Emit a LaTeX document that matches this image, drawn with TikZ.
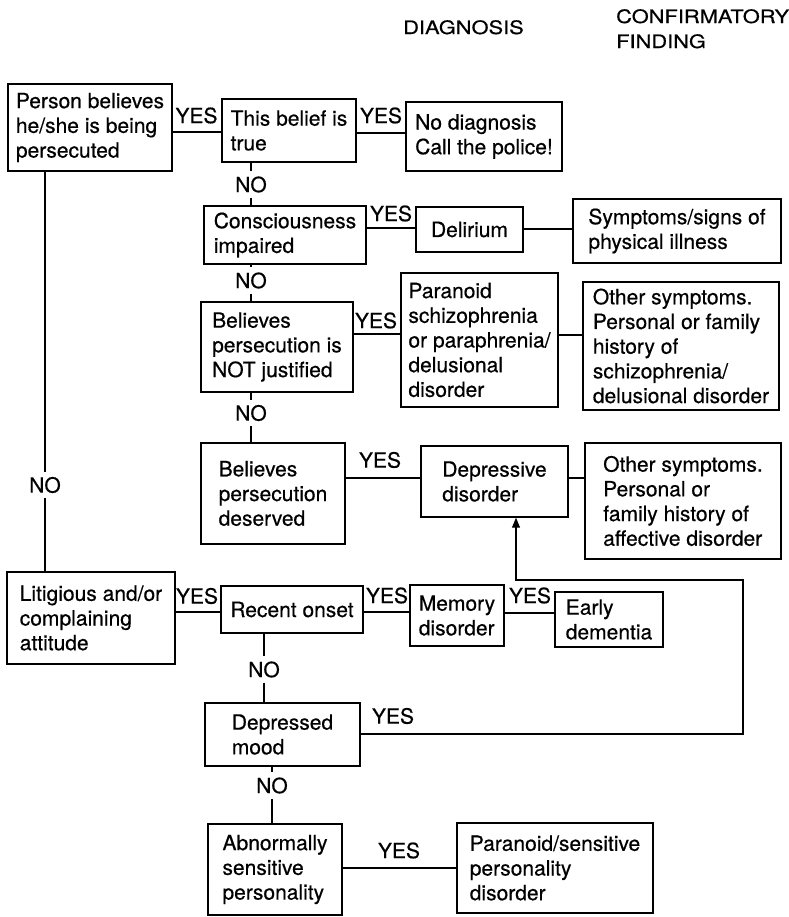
\documentclass[tikz,border=0pt]{standalone}
\usepackage{fontspec}
\setmainfont[FakeBold=0.5]{TeX Gyre Heros}
\newfontfamily\headfont[FakeStretch=1.18,FakeBold=0.5]{TeX Gyre Heros}
\usetikzlibrary{arrows.meta}
\begin{document}
\begin{tikzpicture}[x=1pt,y=-1pt,
  every node/.style={font=\fontsize{21}{24.7}\selectfont},
  box/.style={draw, line width=1.4pt, align=left, inner sep=0pt},
  lbl/.style={inner sep=5pt},
  head/.style={font=\headfont\fontsize{18.5}{25}\selectfont, align=left, inner sep=0pt, anchor=north west},
  link/.style={line width=1.1pt},
]
\useasboundingbox (0,0) rectangle (788,917);

% column headings
\node[head] (hdiag) at (403,20) {DIAGNOSIS};
\node[head] (hconf) at (616,9) {CONFIRMATORY\\FINDING};

% decision and outcome boxes
\node[box, minimum width=164pt, minimum height=87pt] (P) at (90,127.5) {Person believes\\he/she is being\\persecuted};
\node[box, minimum width=134pt, minimum height=63pt] (T) at (289,130.5) {This belief is\\true};
\node[box, minimum width=156pt, minimum height=69pt] (N) at (484,136.5) {No diagnosis\\Call the police!};
\node[box, minimum width=162pt, minimum height=58pt] (C) at (285,235) {Consciousness\\impaired};
\node[box, minimum width=107pt, minimum height=45pt] (Del) at (469.5,229.5) {Delirium};
\node[box, minimum width=208pt, minimum height=64pt] (Sym) at (677,231) {Symptoms/signs of\\physical illness};
\node[box, minimum width=152pt, minimum height=90pt] (B1) at (277,347) {Believes\\persecution is\\NOT justified};
\node[box, minimum width=157pt, minimum height=134pt] (Par) at (479.5,340) {Paranoid\\schizophrenia\\or paraphrenia/\\delusional\\disorder};
\node[box, minimum width=196pt, minimum height=128pt] (Oth1) at (681,346) {Other symptoms.\\Personal or family\\history of\\schizophrenia/\\delusional disorder};
\node[box, minimum width=144pt, minimum height=101pt] (B2) at (273,493.5) {Believes\\persecution\\deserved};
\node[box, minimum width=147pt, minimum height=71pt] (Dep) at (494.5,481.5) {Depressive\\disorder};
\node[box, minimum width=196pt, minimum height=116pt] (Oth2) at (683,501) {Other symptoms.\\Personal or\\family history of\\affective disorder};
\node[box, minimum width=168pt, minimum height=92pt] (Lit) at (91,618) {Litigious and/or\\complaining\\attitude};
\node[box, minimum width=142pt, minimum height=47pt] (Rec) at (292,609.5) {Recent onset};
\node[box, minimum width=94pt, minimum height=61pt] (Mem) at (457,615.5) {Memory\\disorder};
\node[box, minimum width=108pt, minimum height=55pt] (Early) at (609,619.5) {Early\\dementia};
\node[box, minimum width=155pt, minimum height=63pt] (Dm) at (282.5,734.5) {Depressed\\mood};
\node[box, minimum width=134pt, minimum height=91pt] (Abn) at (275,869.5) {Abnormally\\sensitive\\personality};
\node[box, minimum width=196pt, minimum height=90pt] (PS) at (555,868) {Paranoid/sensitive\\personality\\disorder};

% answer labels
\node[lbl] (y1) at (196.5,115.5) {YES};
\node[lbl] (y2) at (381,115.5) {YES};
\node[lbl] (n1) at (251,184.5) {NO};
\node[lbl] (y3) at (391,213.5) {YES};
\node[lbl] (n2) at (251,280.5) {NO};
\node[lbl] (y4) at (376,320.5) {YES};
\node[lbl] (n3) at (251,413) {NO};
\node[lbl] (y5) at (380,460) {YES};
\node[lbl] (n4) at (45,485) {NO};
\node[lbl] (y6) at (197,596) {YES};
\node[lbl] (y7) at (387,595.5) {YES};
\node[lbl] (y8) at (530,595.5) {YES};
\node[lbl] (n5) at (264,669.5) {NO};
\node[lbl] (y9) at (393,716) {YES};
\node[lbl] (n6) at (272,785.5) {NO};
\node[lbl] (y10) at (399,850.5) {YES};

% horizontal connectors
\draw[link] (P.east |- 0,132) -- (T.west |- 0,132);
\draw[link] (T.east |- 0,133) -- (N.west |- 0,133);
\draw[link] (C.east |- 0,228) -- (Del.west |- 0,228);
\draw[link] (Del.east |- 0,229) -- (Sym.west |- 0,229);
\draw[link] (B1.east |- 0,334) -- (Par.west |- 0,334);
\draw[link] (Par.east |- 0,335) -- (Oth1.west |- 0,335);
\draw[link] (B2.east |- 0,478) -- (Dep.west |- 0,478);
\draw[link] (Dep.east |- 0,478) -- (Oth2.west |- 0,478);
\draw[link] (Lit.east |- 0,612) -- (Rec.west |- 0,612);
\draw[link] (Rec.east |- 0,612) -- (Mem.west |- 0,612);
\draw[link] (Mem.east |- 0,613) -- (Early.west |- 0,613);
\draw[link] (Abn.east |- 0,868) -- (PS.west |- 0,868);

% vertical NO branches
\draw[link] (T.south -| n1) -- (n1.north);
\draw[link] (n1.south) -- (C.north -| n1);
\draw[link] (C.south -| n2) -- (n2.north);
\draw[link] (n2.south) -- (B1.north -| n2);
\draw[link] (B1.south -| n3) -- (n3.north);
\draw[link] (n3.south) -- (B2.north -| n3);
\draw[link] (P.south -| n4) -- (n4.north);
\draw[link] (n4.south) -- (Lit.north -| n4);
\draw[link] (Rec.south -| n5) -- (n5.north);
\draw[link] (n5.south) -- (Dm.north -| n5);
\draw[link] (Dm.south -| n6) -- (n6.north);
\draw[link] (n6.south) -- (Abn.north -| n6);

% depressed mood feeds back to depressive disorder
\draw[link, -{Triangle[length=10pt,width=8pt]}] (Dm.east |- 0,734) -| (743,580) -| (Dep.south -| 516,0);
\end{tikzpicture}
\end{document}
